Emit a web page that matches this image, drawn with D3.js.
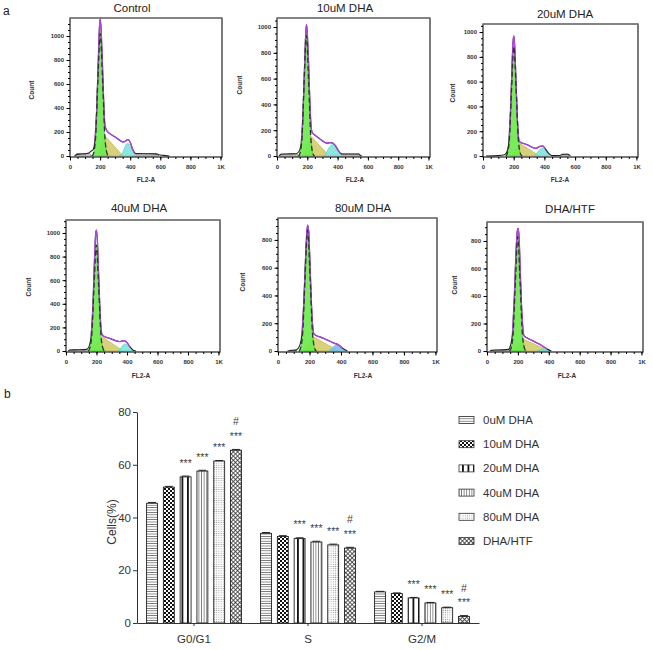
<!DOCTYPE html>
<html><head><meta charset="utf-8">
<script src="https://cdn.jsdelivr.net/npm/d3@7"></script>
<style>
body{margin:0;background:#fff}
svg{display:block}
text{font-family:"Liberation Sans",Arial,sans-serif}
</style>
</head><body>
<svg id="c" width="653" height="650"></svg>
<script>
// ---------------- DATA ----------------
const panelTitles = ["Control","10uM DHA","20uM DHA","40uM DHA","80uM DHA","DHA/HTF"];
const yMaxCounts = [1150, 1070, 1065, 1110, 958, 938];
const yTickSets = [
  [0,200,400,600,800,1000],[0,200,400,600,800,1000],[0,200,400,600,800,1000],
  [0,200,400,600,800,1000],[0,200,400,600,800],[0,200,400,600,800]
];
const xTickValues = [0,200,400,600,800,1000];
const xTickLabels = ["0","200","400","600","800","1K"];

// outline of the measured histogram [FL2-A, count]
const outline1 = [[30,0],[45,12],[60,16],[100,18],[125,25],[140,40],[152,50],[165,120],[177,380],[187,760],[195,1060],[201,1145],[208,1020],[216,750],[224,450],[232,260],[245,210],[270,182],[300,158],[330,132],[352,118],[368,122],[380,136],[390,134],[402,108],[415,60],[428,28],[440,20],[500,19],[570,18],[590,10],[620,5],[660,0]];
const outline2 = [[15,0],[25,14],[60,16],[125,18],[145,35],[160,100],[172,340],[182,700],[190,960],[195,1020],[201,930],[209,700],[217,420],[225,230],[233,180],[250,162],[280,135],[310,110],[330,100],[350,104],[368,100],[385,80],[400,50],[420,20],[435,16],[540,15],[550,5],[560,0]];
const outline3 = [[20,0],[100,3],[140,10],[158,40],[170,140],[181,420],[190,760],[197,940],[201,968],[206,900],[214,640],[222,360],[230,170],[238,115],[260,102],[290,90],[320,70],[346,62],[365,75],[389,81],[405,60],[425,25],[440,8],[454,3],[500,4],[520,14],[555,14],[570,0]];
const outline4 = [[15,0],[25,8],[80,10],[135,14],[150,35],[165,130],[177,400],[187,780],[195,1000],[200,1025],[206,930],[214,650],[222,370],[230,190],[238,135],[260,118],[290,105],[320,90],[350,80],[368,84],[385,87],[400,70],[420,35],[443,5],[460,0]];
const outline5 = [[60,0],[80,4],[110,6],[125,15],[138,40],[152,120],[165,380],[176,700],[184,870],[189,906],[195,860],[203,640],[211,380],[219,200],[227,125],[245,110],[270,100],[300,85],[323,74],[345,62],[360,55],[375,50],[392,38],[410,20],[440,0]];
const outline6 = [[20,0],[30,6],[100,8],[140,12],[152,40],[165,130],[177,400],[187,700],[196,870],[202,892],[208,820],[216,560],[224,320],[232,170],[240,110],[260,95],[290,78],[320,60],[349,44],[370,28],[390,15],[416,0]];

// G0/G1 fitted peak
const g1Fit1 = [[145,0],[153,11],[169,138],[185,622],[201,1020],[217,622],[233,138],[249,11],[257,0]];
const g1Fit2 = [[140,0],[148,10],[164,126],[179,570],[194,935],[209,570],[224,126],[240,10],[248,0]];
const g1Fit3 = [[148,0],[155,10],[171,119],[186,537],[201,881],[216,537],[231,119],[247,10],[255,0]];
const g1Fit4 = [[145,0],[152,10],[168,121],[184,548],[199,898],[214,548],[230,121],[246,10],[254,0]];
const g1Fit5 = [[133,0],[140,10],[156,117],[172,531],[188,870],[204,531],[220,117],[236,10],[244,0]];
const g1Fit6 = [[145,0],[152,9],[168,112],[184,507],[199,831],[214,507],[230,112],[246,9],[254,0]];

// S-phase fitted region
const sFit1 = [[188,0],[232,168],[353,0]];
const sFit2 = [[173,0],[227,150],[346,0]];
const sFit3 = [[185,0],[239,102],[368,0]];
const sFit4 = [[174,0],[235,121],[377,0]];
const sFit5 = [[165,0],[228,100],[386,0]];
const sFit6 = [[159,0],[237,85],[405,0]];

// G2/M fitted peak
const g2Fit1 = [[330,0],[350,30],[365,75],[380,104],[392,100],[405,70],[420,30],[440,0]];
const g2Fit2 = [[314,0],[330,35],[350,75],[373,94],[395,70],[415,30],[433,0]];
const g2Fit3 = [[336,0],[355,30],[372,55],[389,65],[405,48],[420,20],[432,0]];
const g2Fit4 = [[344,0],[360,25],[375,50],[388,59],[405,45],[425,18],[443,0]];
const g2Fit5 = [[323,0],[340,20],[360,38],[375,45],[395,35],[412,15],[428,0]];
const g2Fit6 = [[327,0],[345,8],[370,15],[395,8],[416,0]];

// debris / aggregate regions
const debris1 = [[[40,0],[42,20],[130,22],[145,0]],[[425,0],[430,20],[580,18],[590,0]]];
const debris2 = [[[20,0],[22,14],[130,16],[150,0]],[[420,0],[425,15],[545,15],[550,0]]];
const debris3 = [[[505,0],[510,14],[555,14],[560,0]]];
const debris4 = [[[20,0],[22,8],[140,10],[150,0]]];
const debris5 = [[[70,0],[75,5],[115,6],[120,0]]];
const debris6 = [[[25,0],[28,6],[140,8],[148,0]]];

// ---- bar chart (b) ----
const groups = ["G0/G1","S","G2/M"];
const seriesNames = ["0uM DHA","10uM DHA","20uM DHA","40uM DHA","80uM DHA","DHA/HTF"];
const valuesG0G1 = [45.4, 51.5, 55.4, 57.6, 61.4, 65.5];
const valuesS    = [34.0, 32.8, 32.0, 30.7, 29.6, 28.4];
const valuesG2M  = [11.8, 11.2, 9.5, 7.6, 5.8, 2.5];
const errG0G1 = [0.3,0.3,0.3,0.3,0.2,0.3];
const errS    = [0.3,0.3,0.3,0.3,0.3,0.3];
const errG2M  = [0.2,0.2,0.2,0.2,0.2,0.3];
const starMarks = ["","","***","***","***","***"];
const hashMarks = ["","","","","","#"];
const barYTicks = [0,20,40,60,80];

// ---------------- LAYOUT ----------------
const svg = d3.select("#c");
const defs = svg.append("defs");
const outlines = [outline1,outline2,outline3,outline4,outline5,outline6];
const g1Fits = [g1Fit1,g1Fit2,g1Fit3,g1Fit4,g1Fit5,g1Fit6];
const sFits = [sFit1,sFit2,sFit3,sFit4,sFit5,sFit6];
const g2Fits = [g2Fit1,g2Fit2,g2Fit3,g2Fit4,g2Fit5,g2Fit6];
const debrisSets = [debris1,debris2,debris3,debris4,debris5,debris6];

const frames = [
  {l:70, r:222, t:18, b:157, tx:132, ty:12, cx:32, cy:90, fx:146, fy:182},
  {l:277,r:430, t:18, b:157, tx:345, ty:12, cx:240,cy:85, fx:355, fy:182},
  {l:483,r:638, t:24, b:157, tx:565, ty:18, cx:453,cy:93, fx:560, fy:182},
  {l:66, r:220, t:220,b:352, tx:139, ty:212,cx:29, cy:287,fx:141, fy:378},
  {l:278,r:437, t:218,b:352, tx:363, ty:212,cx:243,cy:282,fx:363, fy:378},
  {l:487,r:643, t:222,b:352, tx:570, ty:213,cx:455,cy:285,fx:567, fy:378}
];

svg.append("text").attr("x",3).attr("y",15).attr("font-size",12).attr("fill","#222").text("a");
svg.append("text").attr("x",4).attr("y",398).attr("font-size",12).attr("fill","#222").text("b");

frames.forEach((f,i)=>{
  const x = d3.scaleLinear().domain([0,1010]).range([f.l, f.r]);
  const y = d3.scaleLinear().domain([0, yMaxCounts[i]]).range([f.b-1, f.t]);
  const g = svg.append("g");
  const cid = "clip"+i;
  defs.append("clipPath").attr("id",cid).append("rect")
    .attr("x",f.l).attr("y",f.t).attr("width",f.r-f.l).attr("height",f.b-f.t);
  const inner = g.append("g").attr("clip-path",`url(#${cid})`);
  const areaSmooth = d3.area().x(d=>x(d[0])).y0(y(0)).y1(d=>y(d[1])).curve(d3.curveMonotoneX);
  const areaLin = d3.area().x(d=>x(d[0])).y0(y(0)).y1(d=>y(d[1]));
  const lineSmooth = d3.line().x(d=>x(d[0])).y(d=>y(d[1])).curve(d3.curveMonotoneX);

  debrisSets[i].forEach(dp=>{
    inner.append("path").attr("d",areaLin(dp)).attr("fill","#cfcfcf").attr("stroke","#8a8a8a").attr("stroke-width",0.8);
  });
  inner.append("path").attr("d",areaLin(sFits[i])).attr("fill","#d3cc6a").attr("fill-opacity",0.9).attr("stroke","#b8b050").attr("stroke-width",0.6);
  inner.append("path").attr("d",areaSmooth(g2Fits[i])).attr("fill", i===4 ? "#80b8ee" : "#7ee6dc").attr("fill-opacity",0.9).attr("stroke","#5cc8c0").attr("stroke-width",0.6);
  inner.append("path").attr("d",areaSmooth(g1Fits[i])).attr("fill","#6cea4c").attr("fill-opacity",0.92).attr("stroke","#3cc83c").attr("stroke-width",0.6);
  inner.append("path").attr("d",lineSmooth(outlines[i])).attr("fill","none").attr("stroke","#222").attr("stroke-width",1.1);
  const g1Start = g1Fits[i][0][0], g2End = g2Fits[i][g2Fits[i].length-1][0];
  const fitPts = outlines[i].filter(d=>d[0]>=g1Start+18 && d[0]<=g2End-10);
  inner.append("path").attr("d",lineSmooth(fitPts)).attr("fill","none").attr("stroke","#b044e0").attr("stroke-width",1.3);
  inner.append("path").attr("d",lineSmooth(g1Fits[i])).attr("fill","none").attr("stroke","#333").attr("stroke-width",1.3).attr("stroke-dasharray","5,3");

  g.append("rect").attr("x",f.l).attr("y",f.t).attr("width",f.r-f.l).attr("height",f.b-f.t)
    .attr("fill","none").attr("stroke","#222").attr("stroke-width",1.2);
  g.append("line").attr("x1",f.l).attr("x2",f.r).attr("y1",f.t).attr("y2",f.t).attr("stroke","#888").attr("stroke-width",1.4);

  const yMinor = d3.axisLeft(y).tickValues(d3.range(0, yMaxCounts[i], 50)).tickSize(2).tickFormat("");
  g.append("g").attr("transform",`translate(${f.l},0)`).call(yMinor).call(a=>a.select(".domain").remove());
  const yAx = d3.axisLeft(y).tickValues(yTickSets[i]).tickSize(3.5).tickPadding(2.5).tickFormat(d3.format("d"));
  g.append("g").attr("transform",`translate(${f.l},0)`).call(yAx)
    .call(a=>{a.select(".domain").remove(); a.selectAll("text").attr("font-size",6).attr("font-weight","bold").attr("fill","#333");});
  const xMinor = d3.axisBottom(x).tickValues(d3.range(0, 1001, 50)).tickSize(2).tickFormat("");
  g.append("g").attr("transform",`translate(0,${f.b})`).call(xMinor).call(a=>a.select(".domain").remove());
  const xAx = d3.axisBottom(x).tickValues(xTickValues).tickSize(3.5).tickPadding(4).tickFormat((d,k)=>xTickLabels[k]);
  g.append("g").attr("transform",`translate(0,${f.b})`).call(xAx)
    .call(a=>{a.select(".domain").remove(); a.selectAll("text").attr("font-size",6).attr("font-weight","bold").attr("fill","#333");});

  g.append("text").attr("x",f.tx).attr("y",f.ty).attr("text-anchor","middle").attr("font-size",11.5).attr("fill","#222").text(panelTitles[i]);
  g.append("text").attr("transform",`translate(${f.cx},${f.cy}) rotate(-90)`).attr("text-anchor","middle").attr("dominant-baseline","middle")
    .attr("font-size",6.5).attr("font-weight","bold").attr("fill","#333").text("Count");
  g.append("text").attr("x",f.fx).attr("y",f.fy).attr("text-anchor","middle").attr("font-size",6.5).attr("font-weight","bold").attr("fill","#333").text("FL2-A");
});

// ---------------- PATTERNS ----------------
function pat(id,w,h,build,transform){
  const p = defs.append("pattern").attr("id",id).attr("patternUnits","userSpaceOnUse").attr("width",w).attr("height",h);
  if(transform) p.attr("patternTransform",transform);
  p.append("rect").attr("width",w).attr("height",h).attr("fill","#fff");
  build(p);
}
pat("p0",4,2.4,p=>p.append("line").attr("x1",0).attr("x2",4).attr("y1",1.2).attr("y2",1.2).attr("stroke","#444").attr("stroke-width",0.7));
pat("p1",4,4,p=>{p.append("rect").attr("width",2).attr("height",2).attr("fill","#111");p.append("rect").attr("x",2).attr("y",2).attr("width",2).attr("height",2).attr("fill","#111");});
pat("p2",5.5,4,p=>p.append("rect").attr("x",0).attr("width",1.8).attr("height",4).attr("fill","#111"));
pat("p3",2.6,4,p=>p.append("line").attr("x1",1.3).attr("x2",1.3).attr("y1",0).attr("y2",4).attr("stroke","#333").attr("stroke-width",0.6));
pat("p4",2.2,2.2,p=>p.append("circle").attr("cx",1.1).attr("cy",1.1).attr("r",0.55).attr("fill","#8a8a8a"));
pat("p5",3,3,p=>{p.append("line").attr("x1",0).attr("x2",3).attr("y1",1.5).attr("y2",1.5).attr("stroke","#333").attr("stroke-width",0.8);
  p.append("line").attr("x1",1.5).attr("x2",1.5).attr("y1",0).attr("y2",3).attr("stroke","#333").attr("stroke-width",0.8);},"rotate(45)");
const patIds = ["p0","p1","p2","p3","p4","p5"];

// ---------------- BAR CHART ----------------
const groupValues = [valuesG0G1, valuesS, valuesG2M];
const groupErrs = [errG0G1, errS, errG2M];
const yB = d3.scaleLinear().domain([0,80]).range([623,412]);
const x0 = d3.scaleBand().domain(groups).range([137,479]);
const x1 = d3.scaleBand().domain(seriesNames).range([0,x0.bandwidth()]).paddingInner(0.35).paddingOuter(0.57);
const bc = svg.append("g");

groups.forEach((gname,gi)=>{
  seriesNames.forEach((s,si)=>{
    const v = groupValues[gi][si], e = groupErrs[gi][si];
    const bx = x0(gname)+x1(s), bw = x1.bandwidth(), cxm = bx+bw/2;
    bc.append("rect").attr("x",bx).attr("y",yB(v)).attr("width",bw).attr("height",yB(0)-yB(v))
      .attr("fill",`url(#${patIds[si]})`).attr("stroke","#222").attr("stroke-width",0.9);
    bc.append("line").attr("x1",cxm).attr("x2",cxm).attr("y1",yB(v)).attr("y2",yB(v+e)).attr("stroke","#222").attr("stroke-width",0.9);
    bc.append("line").attr("x1",cxm-4).attr("x2",cxm+4).attr("y1",yB(v+e)).attr("y2",yB(v+e)).attr("stroke","#222").attr("stroke-width",1);
    if(starMarks[si]) bc.append("text").attr("x",cxm).attr("y",yB(v+e)-9.5).attr("text-anchor","middle").attr("font-size",10.5).attr("fill","#444").text(starMarks[si]);
    if(hashMarks[si]) bc.append("text").attr("x",cxm).attr("y",yB(v+e)-24).attr("text-anchor","middle").attr("font-size",10.5).attr("fill","#444").text(hashMarks[si]);
  });
});

bc.append("g").attr("transform","translate(137,0)")
  .call(d3.axisLeft(yB).tickValues(barYTicks).tickSize(4).tickPadding(2).tickSizeOuter(0))
  .call(a=>{a.selectAll("text").attr("font-size",11.5).attr("fill","#333"); a.selectAll("line,path").attr("stroke","#333");});
bc.append("g").attr("transform","translate(0,623)")
  .call(d3.axisBottom(x0).tickSize(3).tickPadding(9).tickSizeOuter(0))
  .call(a=>{a.selectAll("text").attr("font-size",11.5).attr("fill","#333"); a.selectAll("line,path").attr("stroke","#333");});
bc.append("text").attr("transform","translate(116,522) rotate(-90)").attr("text-anchor","middle").attr("font-size",12).attr("fill","#333").text("Cells(%)");

const lg = svg.append("g");
seriesNames.forEach((s,si)=>{
  const ly = 420 + si*24.2;
  lg.append("rect").attr("x",459).attr("y",ly-3.5).attr("width",15).attr("height",7).attr("fill",`url(#${patIds[si]})`).attr("stroke","#333").attr("stroke-width",0.8);
  lg.append("text").attr("x",483).attr("y",ly+4).attr("font-size",11.5).attr("fill","#333").text(s);
});
</script>
</body></html>
